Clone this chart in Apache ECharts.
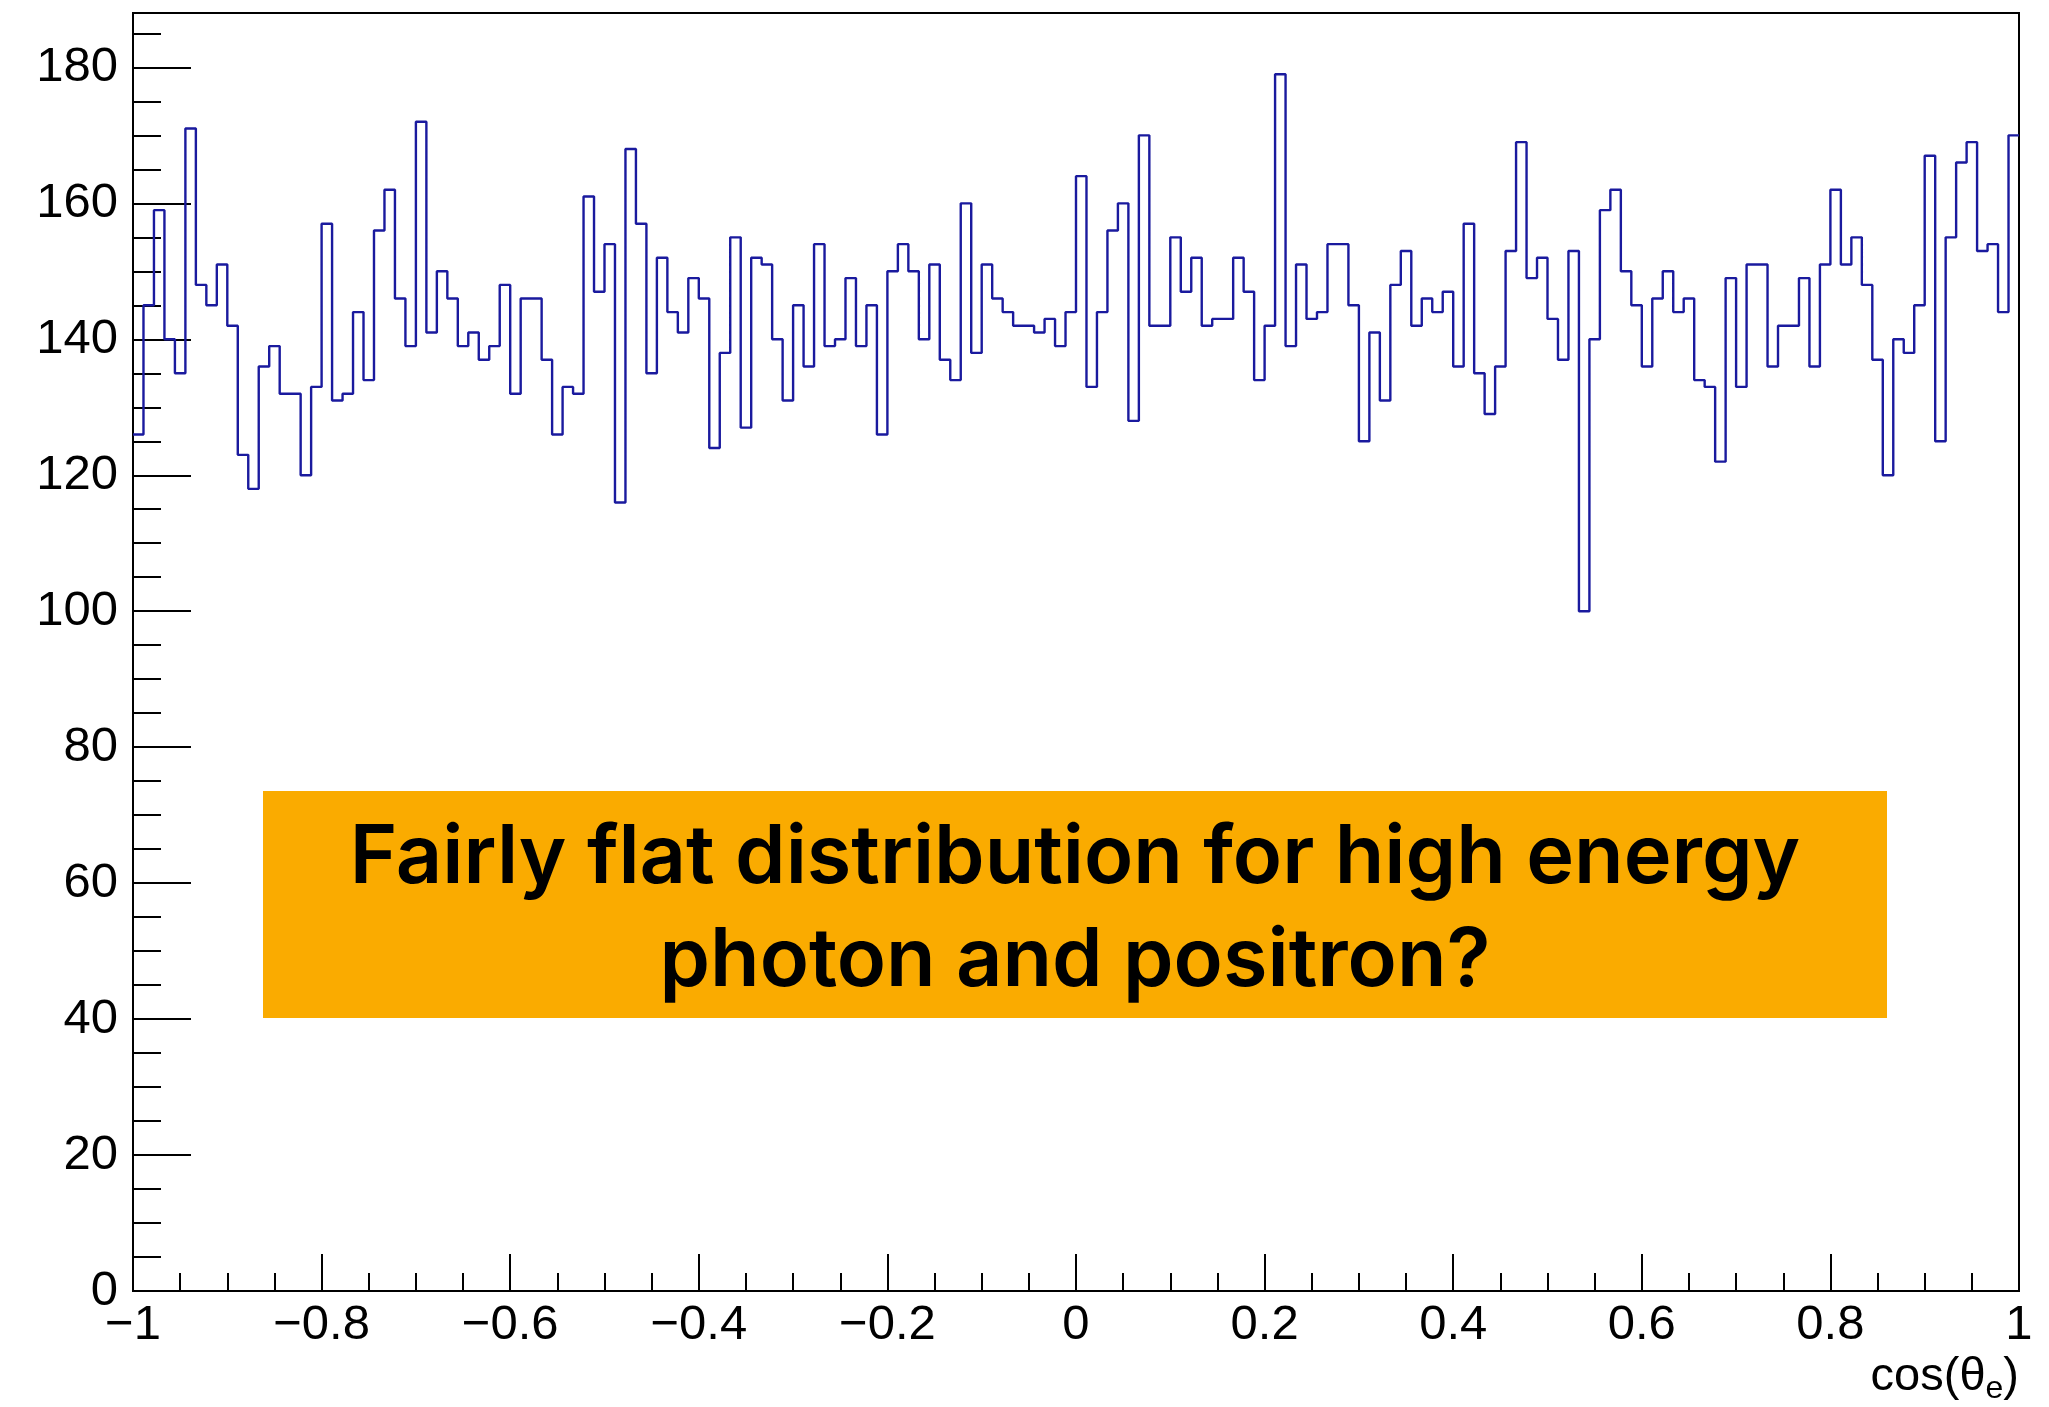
<!DOCTYPE html>
<html>
<head>
<meta charset="utf-8">
<script src="https://cdn.jsdelivr.net/npm/echarts@6/dist/echarts.min.js"></script>
<style>
  html, body { margin: 0; padding: 0; background: #fff; }
  #main { width: 2049px; height: 1407px; }
</style>
</head>
<body>
<div id="main"></div>
<script>
// cos(theta_e) histogram, 180 bins on [-1, 1]
var xMin = -1;
var xMax = 1;
var counts = [
  126, 145, 159, 140, 135, 171, 148, 145, 151, 142, 123, 118, 136, 139, 132, 132, 120, 133,
  157, 131, 132, 144, 134, 156, 162, 146, 139, 172, 141, 150, 146, 139, 141, 137, 139, 148,
  132, 146, 146, 137, 126, 133, 132, 161, 147, 154, 116, 168, 157, 135, 152, 144, 141, 149,
  146, 124, 138, 155, 127, 152, 151, 140, 131, 145, 136, 154, 139, 140, 149, 139, 145, 126,
  150, 154, 150, 140, 151, 137, 134, 160, 138, 151, 146, 144, 142, 142, 141, 143, 139, 144,
  164, 133, 144, 156, 160, 128, 170, 142, 142, 155, 147, 152, 142, 143, 143, 152, 147, 134,
  142, 179, 139, 151, 143, 144, 154, 154, 145, 125, 141, 131, 148, 153, 142, 146, 144, 147,
  136, 157, 135, 129, 136, 153, 169, 149, 152, 143, 137, 153, 100, 140, 159, 162, 150, 145,
  136, 146, 150, 144, 146, 134, 133, 122, 149, 133, 151, 151, 136, 142, 142, 149, 136, 151,
  162, 151, 155, 148, 137, 120, 140, 138, 145, 167, 125, 155, 166, 169, 153, 154, 144, 170
];
var yMax = 188;
var xTitle = '{a|cos(θ}{b|e}{a|)}';
var note = 'Fairly flat distribution for high energy\nphoton and positron?';

// step outline: left edge of every bin, plus the right end
var binW = (xMax - xMin) / counts.length;
var steps = counts.map(function (c, i) { return [xMin + i * binW, c]; });
steps.push([xMax, counts[counts.length - 1]]);

var labelFont = 'Liberation Sans, Arial, sans-serif';

var myChart = echarts.init(document.getElementById('main'));
myChart.setOption({
  animation: false,
  backgroundColor: '#fff',
  grid: {
    left: 133, right: 30, top: 13, bottom: 116,
    show: true, borderColor: '#000', borderWidth: 2
  },
  xAxis: {
    type: 'value',
    min: xMin, max: xMax, interval: 0.2,
    axisLine: { show: true, onZero: false, lineStyle: { color: '#000', width: 2 } },
    axisTick: { show: true, inside: true, length: 37, lineStyle: { color: '#000', width: 2 } },
    minorTick: { show: true, splitNumber: 4, length: 18, lineStyle: { color: '#000', width: 2 } },
    splitLine: { show: false },
    axisLabel: {
      color: '#000', fontSize: 49, fontFamily: labelFont, margin: 10,
      formatter: function (v) { return String(+v.toFixed(1)).replace('-', '\u2212'); }
    },
    name: xTitle,
    nameLocation: 'end',
    nameGap: 0,
    nameTextStyle: {
      align: 'right', verticalAlign: 'top', padding: [58, 0, 0, 0],
      rich: {
        a: { fontSize: 47, fontFamily: labelFont, color: '#000', lineHeight: 56, verticalAlign: 'middle' },
        b: { fontSize: 32, fontFamily: labelFont, color: '#000', lineHeight: 56, verticalAlign: 'bottom' }
      }
    }
  },
  yAxis: [{
    type: 'value',
    position: 'left',
    min: 0, max: yMax, interval: 20,
    axisLine: { show: true, onZero: false, lineStyle: { color: '#000', width: 2 } },
    axisTick: { show: true, inside: true, length: 58, lineStyle: { color: '#000', width: 2 } },
    splitLine: { show: false },
    axisLabel: {
      color: '#000', fontSize: 49, fontFamily: labelFont, margin: 15,
      showMaxLabel: false
    }
  }, {
    // minor ticks every 5
    type: 'value',
    position: 'left',
    min: 0, max: yMax, interval: 5,
    axisLine: { show: false, onZero: false },
    axisTick: { show: true, inside: true, length: 28, lineStyle: { color: '#000', width: 2 } },
    splitLine: { show: false },
    axisLabel: { show: false }
  }],
  series: [{
    type: 'line',
    step: 'end',
    data: steps,
    symbol: 'none',
    lineStyle: { color: '#1a1a9e', width: 2.4 },
    z: 3
  }],
  graphic: [{
    type: 'rect',
    shape: { x: 263, y: 791, width: 1624, height: 227 },
    style: { fill: '#FAAB00' },
    z: 10
  }, {
    type: 'text',
    x: 1075, y: 910,
    style: {
      text: note,
      fill: '#000',
      font: '600 81px Inter, Liberation Sans, sans-serif',
      align: 'center',
      verticalAlign: 'middle',
      lineHeight: 103
    },
    z: 11
  }]
});
</script>
</body>
</html>
